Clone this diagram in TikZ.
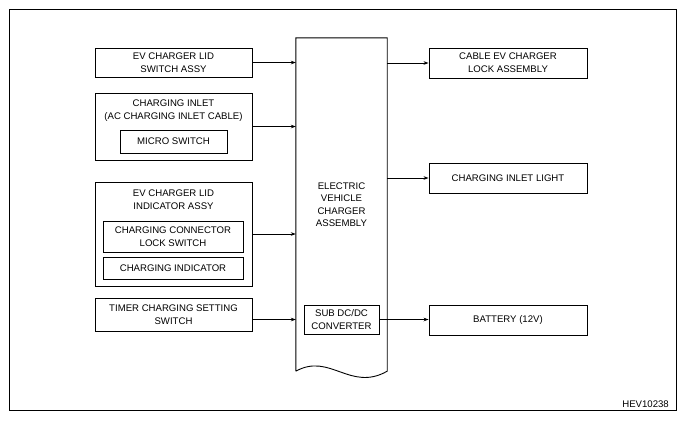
\documentclass[tikz,border=0pt]{standalone}
\usepackage{fontspec}
\setmainfont{Liberation Sans}
\usetikzlibrary{arrows.meta}
\newcommand\dfont{\fontsize{9.6bp}{13bp}\selectfont}
\begin{document}
\begin{tikzpicture}[x=1bp,y=-1bp,
  box/.style={draw,line width=0.9bp,inner sep=0pt,align=center,font=\dfont},
  txt/.style={inner sep=0pt,align=center,font=\dfont},
  arr/.style={line width=0.8bp,-{Stealth[length=5bp,width=3.6bp]}},
  ln/.style={line width=0.8bp}]
\useasboundingbox (0,0) rectangle (686,420);
\draw[line width=1bp] (9,9.5) rectangle (676,410);

% left side
\node[box,minimum width=157bp,minimum height=29bp] (b1) at (173.5,62.5) {EV CHARGER LID\\SWITCH ASSY};

\node[box,minimum width=157bp,minimum height=67bp] (b2) at (173.5,126.5) {};
\node[txt] (b2t) at (173.5,110.5) {CHARGING INLET\\(AC CHARGING INLET CABLE)};
\node[box,minimum width=107bp,minimum height=23bp] (ms) at (173.5,141.5) {MICRO SWITCH};

\node[box,minimum width=157bp,minimum height=104bp] (b3) at (173.5,234) {};
\node[txt] (b3t) at (173.5,199.5) {EV CHARGER LID\\INDICATOR ASSY};
\node[box,minimum width=140bp,minimum height=31bp] (cl) at (173,236.5) {CHARGING CONNECTOR\\LOCK SWITCH};
\node[box,minimum width=140bp,minimum height=22bp] (ci) at (173,268) {CHARGING INDICATOR};

\node[box,minimum width=157bp,minimum height=33bp] (b4) at (173.5,314.5) {TIMER CHARGING SETTING\\SWITCH};

% central block
\node[minimum width=91bp,minimum height=333bp,inner sep=0pt] (cb) at (341.5,204.5) {};
\draw[line width=0.9bp] (cb.south west) -- (cb.north west) -- (cb.north east) -- (cb.south east)
  .. controls +(-37,21) and +(34,-19) .. (cb.south west);
\node[txt,font=\fontsize{9.6bp}{12.5bp}\selectfont] (cbt) at (341.5,204.5) {ELECTRIC\\VEHICLE\\CHARGER\\ASSEMBLY};
\node[box,minimum width=75bp,minimum height=29bp] (sub) at (341.5,319.5) {SUB DC/DC\\CONVERTER};

% right side
\node[box,minimum width=158bp,minimum height=30bp] (r1) at (508,63) {CABLE EV CHARGER\\LOCK ASSEMBLY};
\node[box,minimum width=158bp,minimum height=30bp] (r2) at (508,178) {CHARGING INLET LIGHT};
\node[box,minimum width=158bp,minimum height=30bp] (r3) at (508,320) {BATTERY (12V)};

% connectors
\draw[arr] (b1.east) -- (b1.east -| cb.west);
\draw[arr] (b2.east) -- (b2.east -| cb.west);
\draw[arr] (b3.east) -- (b3.east -| cb.west);
\draw[arr] (b4.east |- sub.west) -- (cb.west |- sub.west);
\draw[arr] (r1.west -| cb.east) -- (r1.west);
\draw[arr] (r2.west -| cb.east) -- (r2.west);
\draw[arr] (sub.east) -- (sub.east -| r3.west);

\node[txt,anchor=south east] (code) at (669,407.5) {HEV10238};
\end{tikzpicture}
\end{document}
